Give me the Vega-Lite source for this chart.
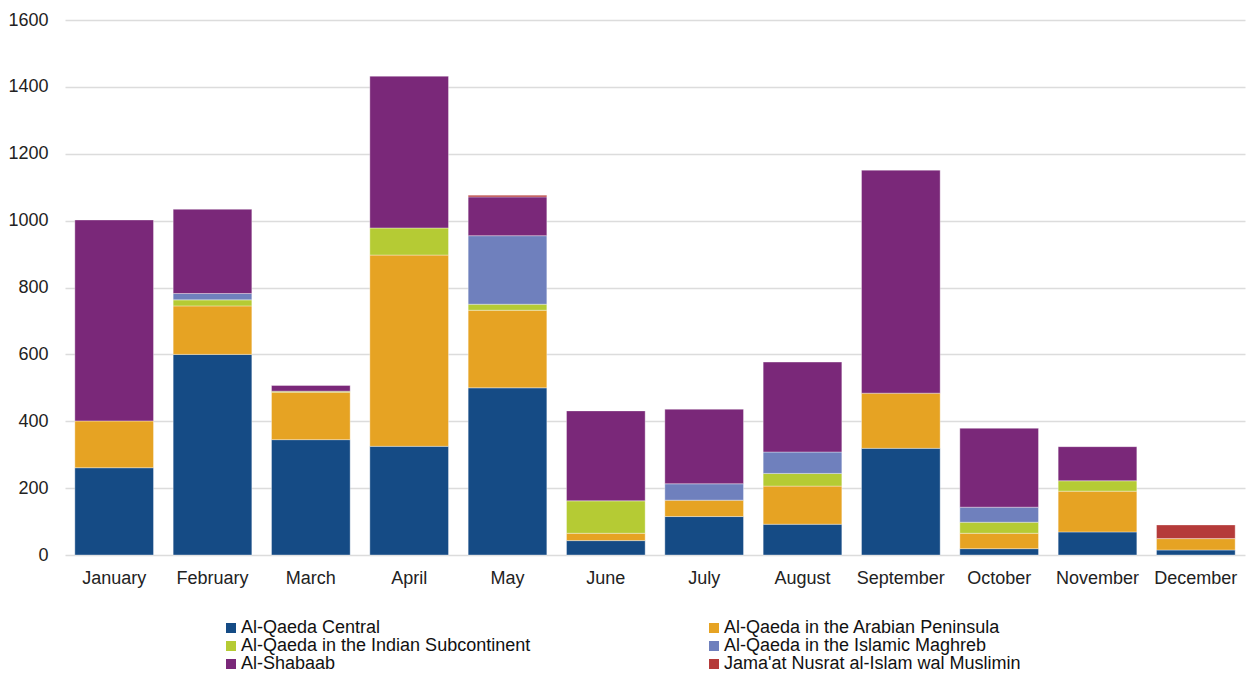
{
  "$schema": "https://vega.github.io/schema/vega-lite/v6.json",
  "width": 1180,
  "height": 535,
  "autosize": "none",
  "padding": {"left": 65, "top": 20, "right": 1, "bottom": 118},
  "background": "white",
  "config": {
    "font": "Liberation Sans",
    "view": {"stroke": null}
  },
  "data": {
    "values": [
      {"month": "January", "group": "Al-Qaeda Central", "value": 261},
      {"month": "January", "group": "Al-Qaeda in the Arabian Peninsula", "value": 140},
      {"month": "January", "group": "Al-Shabaab", "value": 601},
      {"month": "February", "group": "Al-Qaeda Central", "value": 600},
      {"month": "February", "group": "Al-Qaeda in the Arabian Peninsula", "value": 145},
      {"month": "February", "group": "Al-Qaeda in the Indian Subcontinent", "value": 18},
      {"month": "February", "group": "Al-Qaeda in the Islamic Maghreb", "value": 19},
      {"month": "February", "group": "Al-Shabaab", "value": 252},
      {"month": "March", "group": "Al-Qaeda Central", "value": 345},
      {"month": "March", "group": "Al-Qaeda in the Arabian Peninsula", "value": 142},
      {"month": "March", "group": "Al-Qaeda in the Indian Subcontinent", "value": 3},
      {"month": "March", "group": "Al-Shabaab", "value": 17},
      {"month": "April", "group": "Al-Qaeda Central", "value": 325},
      {"month": "April", "group": "Al-Qaeda in the Arabian Peninsula", "value": 572},
      {"month": "April", "group": "Al-Qaeda in the Indian Subcontinent", "value": 81},
      {"month": "April", "group": "Al-Shabaab", "value": 454},
      {"month": "May", "group": "Al-Qaeda Central", "value": 500},
      {"month": "May", "group": "Al-Qaeda in the Arabian Peninsula", "value": 232},
      {"month": "May", "group": "Al-Qaeda in the Indian Subcontinent", "value": 18},
      {"month": "May", "group": "Al-Qaeda in the Islamic Maghreb", "value": 205},
      {"month": "May", "group": "Al-Shabaab", "value": 116},
      {"month": "May", "group": "Jama'at Nusrat al-Islam wal Muslimin", "value": 5},
      {"month": "June", "group": "Al-Qaeda Central", "value": 43},
      {"month": "June", "group": "Al-Qaeda in the Arabian Peninsula", "value": 22},
      {"month": "June", "group": "Al-Qaeda in the Indian Subcontinent", "value": 97},
      {"month": "June", "group": "Al-Shabaab", "value": 269},
      {"month": "July", "group": "Al-Qaeda Central", "value": 115},
      {"month": "July", "group": "Al-Qaeda in the Arabian Peninsula", "value": 49},
      {"month": "July", "group": "Al-Qaeda in the Islamic Maghreb", "value": 49},
      {"month": "July", "group": "Al-Shabaab", "value": 223},
      {"month": "August", "group": "Al-Qaeda Central", "value": 92},
      {"month": "August", "group": "Al-Qaeda in the Arabian Peninsula", "value": 114},
      {"month": "August", "group": "Al-Qaeda in the Indian Subcontinent", "value": 38},
      {"month": "August", "group": "Al-Qaeda in the Islamic Maghreb", "value": 64},
      {"month": "August", "group": "Al-Shabaab", "value": 269},
      {"month": "September", "group": "Al-Qaeda Central", "value": 319},
      {"month": "September", "group": "Al-Qaeda in the Arabian Peninsula", "value": 165},
      {"month": "September", "group": "Al-Shabaab", "value": 667},
      {"month": "October", "group": "Al-Qaeda Central", "value": 19},
      {"month": "October", "group": "Al-Qaeda in the Arabian Peninsula", "value": 46},
      {"month": "October", "group": "Al-Qaeda in the Indian Subcontinent", "value": 33},
      {"month": "October", "group": "Al-Qaeda in the Islamic Maghreb", "value": 45},
      {"month": "October", "group": "Al-Shabaab", "value": 236},
      {"month": "November", "group": "Al-Qaeda Central", "value": 69},
      {"month": "November", "group": "Al-Qaeda in the Arabian Peninsula", "value": 122},
      {"month": "November", "group": "Al-Qaeda in the Indian Subcontinent", "value": 31},
      {"month": "November", "group": "Al-Shabaab", "value": 102},
      {"month": "December", "group": "Al-Qaeda Central", "value": 15},
      {"month": "December", "group": "Al-Qaeda in the Arabian Peninsula", "value": 34},
      {"month": "December", "group": "Jama'at Nusrat al-Islam wal Muslimin", "value": 41}
    ]
  },
  "mark": {"type": "bar", "stroke": "white", "strokeWidth": 0.6, "strokeOpacity": 0.6},
  "encoding": {
    "x": {
      "field": "month",
      "type": "nominal",
      "sort": ["January","February","March","April","May","June","July","August","September","October","November","December"],
      "scale": {"paddingInner": 0.2, "paddingOuter": 0.1},
      "axis": {
        "title": null,
        "labelAngle": 0,
        "labelFontSize": 18,
        "labelColor": "#222222",
        "labelPadding": 14,
        "ticks": false,
        "domain": false,
        "grid": false
      }
    },
    "y": {
      "field": "value",
      "type": "quantitative",
      "aggregate": "sum",
      "stack": "zero",
      "scale": {"domain": [0, 1600], "nice": false},
      "axis": {
        "title": null,
        "format": "d",
        "values": [0,200,400,600,800,1000,1200,1400,1600],
        "labelFontSize": 18,
        "labelColor": "#222222",
        "labelPadding": 17,
        "ticks": false,
        "domain": false,
        "gridColor": "#dcdcdc",
        "gridWidth": 1.5
      }
    },
    "order": {"field": "group", "type": "nominal", "sort": "ascending"},
    "color": {
      "field": "group",
      "type": "nominal",
      "scale": {
        "domain": ["Al-Qaeda Central","Al-Qaeda in the Arabian Peninsula","Al-Qaeda in the Indian Subcontinent","Al-Qaeda in the Islamic Maghreb","Al-Shabaab","Jama'at Nusrat al-Islam wal Muslimin"],
        "range": ["#154B85","#E6A323","#B5CB34","#6F80BD","#7A2879","#B53B3A"]
      },
      "legend": {
        "title": null,
        "orient": "none",
        "legendX": 157,
        "legendY": 599,
        "columns": 2,
        "direction": "horizontal",
        "columnPadding": 174,
        "rowPadding": 0,
        "symbolType": "square",
        "symbolSize": 100,
        "symbolStrokeWidth": 0,
        "symbolOffset": 0,
        "labelOffset": 1,
        "labelFontSize": 18,
        "labelColor": "#111111",
        "labelLimit": 400
      }
    }
  }
}
